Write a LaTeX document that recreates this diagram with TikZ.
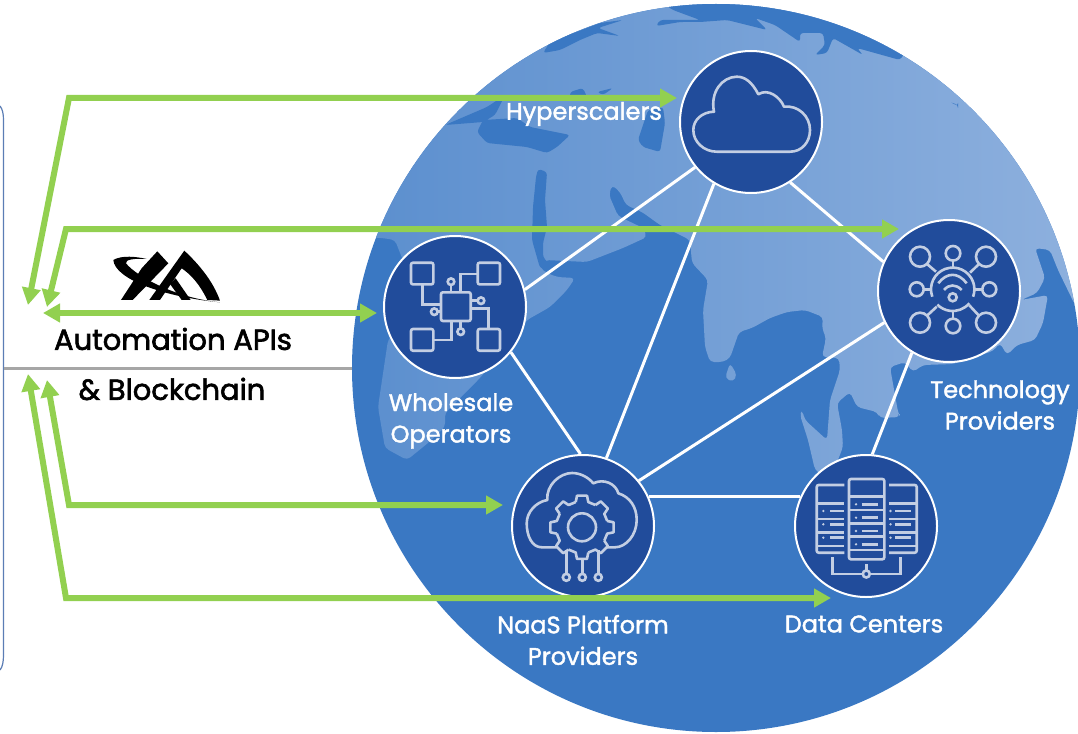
\documentclass[tikz,border=0pt]{standalone}
\usepackage{fontspec}
\setmainfont{Poppins}
\newfontfamily\hubfont{Poppins}[FakeBold=1.6]
\newfontfamily\apifont{Poppins}[FakeBold=2.2]
\usetikzlibrary{arrows.meta}
\definecolor{seablue}{HTML}{3A78C3}
\definecolor{landleft}{HTML}{5A8ECE}
\definecolor{landright}{HTML}{8FB1DE}
\definecolor{hubblue}{HTML}{214C9B}
\definecolor{iconcol}{HTML}{C3CEE3}
\definecolor{apigreen}{HTML}{92D050}
\definecolor{framecol}{HTML}{5B7DB5}
\definecolor{rulecol}{HTML}{A6A6A6}
\tikzset{
  hub/.style={circle, draw=white, line width=2pt, fill=hubblue, minimum size=142pt, inner sep=0pt},
  link/.style={draw=white, line width=3pt},
  iconline/.style={draw=iconcol, line width=2.6pt},
  icondot/.style={iconline, fill=hubblue},
  apiarrow/.style={draw=apigreen, line width=6pt, line join=miter, >={Triangle[length=17pt,width=18pt]}},
  hublabel/.style={text=white, align=center, inner sep=0pt, font=\fontsize{24}{31.5}\selectfont\hubfont},
  apilabel/.style={text=black, inner sep=0pt, font=\fontsize{29}{30}\selectfont\apifont}
}
\begin{document}
\begin{tikzpicture}[x=1pt, y=-1pt]
  \useasboundingbox (0,0) rectangle (1078,733);
  \fill[white] (0,0) rectangle (1078,733);
  \draw[framecol, line width=1.2pt] (0,106) .. controls (2.5,109) and (3.5,114) .. (3.5,120)
    -- (3.5,655) .. controls (3.5,662) and (2.5,667) .. (0,670);
  \draw[rulecol, line width=3pt] (3.5,368) -- (360,368);
  \fill[seablue] (716,368) circle (364);
  \begin{scope}
    \clip (716,368) circle (364);
    \shade[left color=landleft, right color=landright, rounded corners=4pt]
      (340,-10) -- (340,236) -- (382,238) -- (395,240) -- (400,253) -- (420,300) -- (388,340)
      -- (378,407) -- (385,448) -- (407,460) -- (428,443) -- (445,427) -- (445,413) -- (480,378)
      -- (527,320) -- (550,307) -- (567,290) -- (575,278) -- (557,277) -- (547,273) -- (540,268)
      -- (545,260) -- (587,262) -- (623,248) -- (647,237) -- (643,228) -- (618,216) -- (609,195)
      -- (612,185) -- (620,192) -- (626,205) -- (642,212) -- (660,225) -- (690,240) -- (692,263)
      -- (708,280) -- (703,310) -- (705,347) -- (710,362) -- (723,362) -- (730,358) -- (739,332)
      -- (752,328) -- (770,318) -- (787,312) -- (805,310) -- (823,317) -- (822,328) -- (826,338)
      -- (822,357) -- (839,358) -- (840,370) -- (830,400) -- (827,440) -- (805,420) -- (802,410)
      -- (800,415) -- (808,440) -- (815,470) -- (830,480) -- (843,447) -- (842,430) -- (837,403)
      -- (850,392) -- (857,407) -- (877,412) -- (880,418) -- (900,417) -- (898,412) -- (890,367)
      -- (905,362) -- (913,372) -- (923,365) -- (953,364) -- (993,351) -- (1000,343) -- (1007,355)
      -- (1017,345) -- (1035,340) -- (1043,323) -- (1048,295) -- (1021,300) -- (1037,293)
      -- (1045,278) -- (1035,248) -- (1050,250) -- (1058,270) -- (1075,305) -- (1100,305)
      -- (1100,-10) -- cycle
      (730,363) -- (737,375) -- (733,382) -- (725,378) -- cycle;
    \fill[seablue, rounded corners=3pt]
      (650,-5) -- (673,10) -- (700,20) -- (660,20) -- (656,26) -- (680,22) -- (700,22) -- (727,20)
      -- (767,30) -- (755,18) -- (775,25) -- (800,42) -- (800,33) -- (823,33) -- (825,45)
      -- (815,55) -- (827,53) -- (833,38) -- (863,55) -- (857,48) -- (900,60) -- (920,30)
      -- (800,-5) -- cycle
      (543,53) -- (560,50) -- (580,40) -- (597,33) -- (620,36) -- (598,28) -- (623,20) -- (600,23)
      -- (550,42) -- cycle
      (483,120) -- (517,118) -- (530,127) -- (570,135) -- (557,147) -- (547,153) -- (527,147)
      -- (487,143) -- (477,132) -- cycle
      (445,125) -- (487,107) -- (505,95) -- (495,115) -- (483,122) -- cycle
      (570,92) -- (583,88) -- (587,97) -- (570,97) -- cycle
      (597,92) -- (613,88) -- (603,95) -- cycle
      (638,140) -- (648,110) -- (663,107) -- (665,123) -- (660,152) -- (643,147) -- cycle
      (538,169) -- (547,172) -- (545,200) -- (547,227) -- (543,243) -- (543,257) -- (557,273)
      -- (540,268) -- (532,240) -- (533,207) -- (536,177) -- cycle
      (950,102) -- (958,105) -- (958,106) -- cycle;
  \end{scope}
  \node[hub] (hyper) at (751,122) {};
  \node[hub] (whole) at (455,307) {};
  \node[hub] (tech) at (949,291) {};
  \node[hub] (naas) at (583,526) {};
  \node[hub] (center) at (866,526) {};
  \draw[link] (hyper.219) -- (whole.14);
  \draw[link] (hyper.239) -- (naas.71);
  \draw[link] (hyper.303) -- (tech.156);
  \draw[link] (whole.321) -- (naas.92);
  \draw[link] (naas.39) -- (tech.206);
  \draw[link] (naas.24) -- (center.156);
  \draw[link] (tech.239) -- (center.85);
  \draw[iconline, line join=round] (716.7,151.7) -- (790,151.7) .. controls (802,151.7) and (810,142) .. (810,130)
    .. controls (810,116) and (798,105) .. (784,106.7) .. controls (780,97) and (768,88) .. (758.3,94.3)
    .. controls (752,82) and (745,76.7) .. (736.7,76.7) .. controls (722,77) and (710,92) .. (714,111.7)
    .. controls (702,112) and (693.3,120) .. (693.3,130) .. controls (693.3,142) and (704,151.7) .. (716.7,151.7) -- cycle;
  \foreach \x/\y in {411/262.7, 477.7/262.7, 411/329, 477.7/329}
    \draw[iconline, rounded corners=2pt] (\x,\y) rectangle ++(22.3,21.7);
  \draw[iconline, rounded corners=2pt] (441,292.3) rectangle (470.7,321);
  \draw[iconline] (422.3,284) |- (441,304.3);
  \draw[iconline] (477.7,274) -| (460.7,292.3);
  \draw[iconline] (433.3,340) -| (451.7,321);
  \draw[iconline] (470.7,308.3) -| (488.3,329);
  \draw[iconline] (451,285) -- (451,292.3);
  \draw[iconline] (470.7,300.7) -- (478,300.7);
  \draw[iconline] (437.5,311.7) -- (441,311.7);
  \draw[iconline] (460.7,328.4) -- (460.7,321);
  \foreach \x/\y in {451/281.7, 481/300.7, 434.3/311.7, 460.7/331.7}
    \draw[icondot] (\x,\y) circle (3.3);
  \foreach \x/\y/\r in {920/256.7/10, 953/253.3/7.3, 986/256.7/10, 916.7/289.3/7, 989.3/289.3/7, 920/322.7/10, 953/326/7.3, 986/322.7/10}
    \draw[iconline] (\x,\y) circle (\r);
  \draw[iconline] (952.7,289.3) ++(40:21.7) arc (40:135:21.7);
  \draw[iconline] (952.7,289.3) ++(160:21.7) arc (160:380:21.7);
  \draw[iconline] (927,264) -- (936,271.7);
  \draw[iconline] (953,260.7) -- (953,267.7);
  \draw[iconline] (979,264) -- (970,272.7);
  \draw[iconline] (923.7,289.3) -- (931,289.3);
  \draw[iconline] (982.3,289.3) -- (974.4,289.3);
  \draw[iconline] (927,315.7) -- (936.7,306.7);
  \draw[iconline] (979,315.7) -- (969.3,305.3);
  \draw[iconline] (953,318.7) -- (953,311);
  \draw[iconline] (938.3,283.3) .. controls (947,272) and (958,272) .. (966.7,283.3);
  \draw[iconline] (944,290) .. controls (949,284) and (956,284) .. (961.7,290);
  \draw[iconline] (952.7,297.3) circle (4);
  \draw[iconline, line join=round] (556.7,547.3) -- (541.7,547.3) .. controls (532,547.3) and (526.7,536) .. (526.7,523.3)
    .. controls (526.7,512) and (536,502) .. (547.3,500) .. controls (546,485) and (560,473) .. (572,473)
    .. controls (580,473) and (588,477) .. (593.3,483.3) .. controls (604,478) and (616,484) .. (618.3,493.3)
    .. controls (630,497) and (636.7,507) .. (636.7,520) .. controls (636.7,535) and (626,547.3) .. (615,547.3) -- (606.7,547.3);
  \begin{scope}[shift={(582,527.3)}]
    \foreach \a in {0,45,...,315}
      \draw[iconline, line join=round] (\a-14:26) -- (\a-9:32) -- (\a+9:32) -- (\a+14:26) -- (\a+31:26);
    \draw[iconline] (0,0) circle (14);
  \end{scope}
  \foreach \x/\y in {566.3/550, 582.3/558, 598.3/550}{
    \draw[iconline] (\x,\y) -- (\x,574);
    \draw[icondot] (\x,577.3) circle (3.5);
  }
  \draw[iconline, rounded corners=2pt] (849,479) rectangle (884.3,559.3);
  \foreach \y in {496.7,510,523.3,536.7,550}
    \draw[iconline] (849,\y) -- (884.3,\y);
  \foreach \y in {504.3,517.7,531,544.3}{
    \fill[iconcol] (856,\y) circle (1.3);
    \draw[iconline] (861.7,\y) -- (878.3,\y);
  }
  \draw[iconline, rounded corners=2pt] (844.3,485) -- (816.7,485) -- (816.7,552.7) -- (844.3,552.7);
  \draw[iconline, rounded corners=2pt] (889,485) -- (916.7,485) -- (916.7,552.7) -- (889,552.7);
  \foreach \y in {503.3,519,532.3,546}{
    \draw[iconline] (816.7,\y) -- (844.3,\y);
    \draw[iconline] (889,\y) -- (916.7,\y);
  }
  \foreach \y in {511,524.3,537.7}{
    \fill[iconcol] (823.3,\y) circle (1.3);
    \draw[iconline] (830,\y) -- (844.3,\y);
    \fill[iconcol] (890.5,\y) circle (1.3);
    \draw[iconline] (895,\y) -- (910.7,\y);
  }
  \draw[iconline] (832.3,557.3) -- (832.3,574) -- (900.7,574) -- (900.7,557.3);
  \draw[iconline] (866.3,564) -- (866.3,570.5);
  \draw[icondot] (866.3,574) circle (3.5);
  \begin{scope}[shift={(0,60)}, x=0.3333pt, y=-0.3333pt]
    \fill[black] (340,600) .. controls (365,585) and (410,590) .. (440,597)
      .. controls (405,595) and (375,598) .. (378,610) .. controls (410,650) and (530,715) .. (660,727)
      .. controls (500,712) and (345,660) .. (340,600) -- cycle;
    \fill[black] (363,720) -- (398,720) -- (505,610) -- (472,574) -- (425,625) -- cycle;
    \fill[black] (448,720) -- (553,572) .. controls (615,630) and (645,680) .. (660,722)
      -- (622,720) .. controls (600,675) and (575,645) .. (545,625) -- (480,720) -- cycle;
    \fill[black] (510,672) -- (545,720) -- (572,720) -- (527,655) -- cycle;
  \end{scope}
  \coordinate (hypertip) at ([shift={(-74,-24)}]hyper.center);
  \coordinate (techtip) at ([shift={(-50,-62)}]tech.center);
  \coordinate (wholetip) at ([shift={(-78,6)}]whole.center);
  \coordinate (naastip) at ([shift={(-80,-21)}]naas.center);
  \coordinate (centertip) at ([shift={(-35,72)}]center.center);
  \coordinate (hyperapi) at (28,305);
  \coordinate (techapi) at (47,307);
  \coordinate (wholeapi) at (43,313);
  \coordinate (naasapi) at (47,380);
  \coordinate (centerapi) at (28,374);
  \coordinate (hypercorner) at (69,98);
  \coordinate (techcorner) at (66,229);
  \coordinate (naascorner) at (69,505);
  \coordinate (centercorner) at (66,598);
  \draw[apiarrow, <->] (hyperapi) -- (hypercorner) -- (hypertip);
  \draw[apiarrow, <->] (techapi) -- (techcorner) -- (techtip);
  \draw[apiarrow, <->] (wholeapi) -- (wholetip);
  \draw[apiarrow, <->] (naasapi) -- (naascorner) -- (naastip);
  \draw[apiarrow, <->] (centerapi) -- (centercorner) -- (centertip);
  \node[hublabel] (hyperlabel) at (584,114) {Hyperscalers};
  \node[hublabel] (wholelabel) at (451,421) {Wholesale\\Operators};
  \node[hublabel] (techlabel) at (1000,405) {Technology\\Providers};
  \node[hublabel] (naaslabel) at (583,640) {NaaS Platform\\Providers};
  \node[hublabel] (centerlabel) at (864,624) {Data Centers};
  \node[apilabel] (apilabel) at (173,339) {Automation APIs};
  \node[apilabel] (chainlabel) at (172,389) {\& Blockchain};
\end{tikzpicture}
\end{document}
